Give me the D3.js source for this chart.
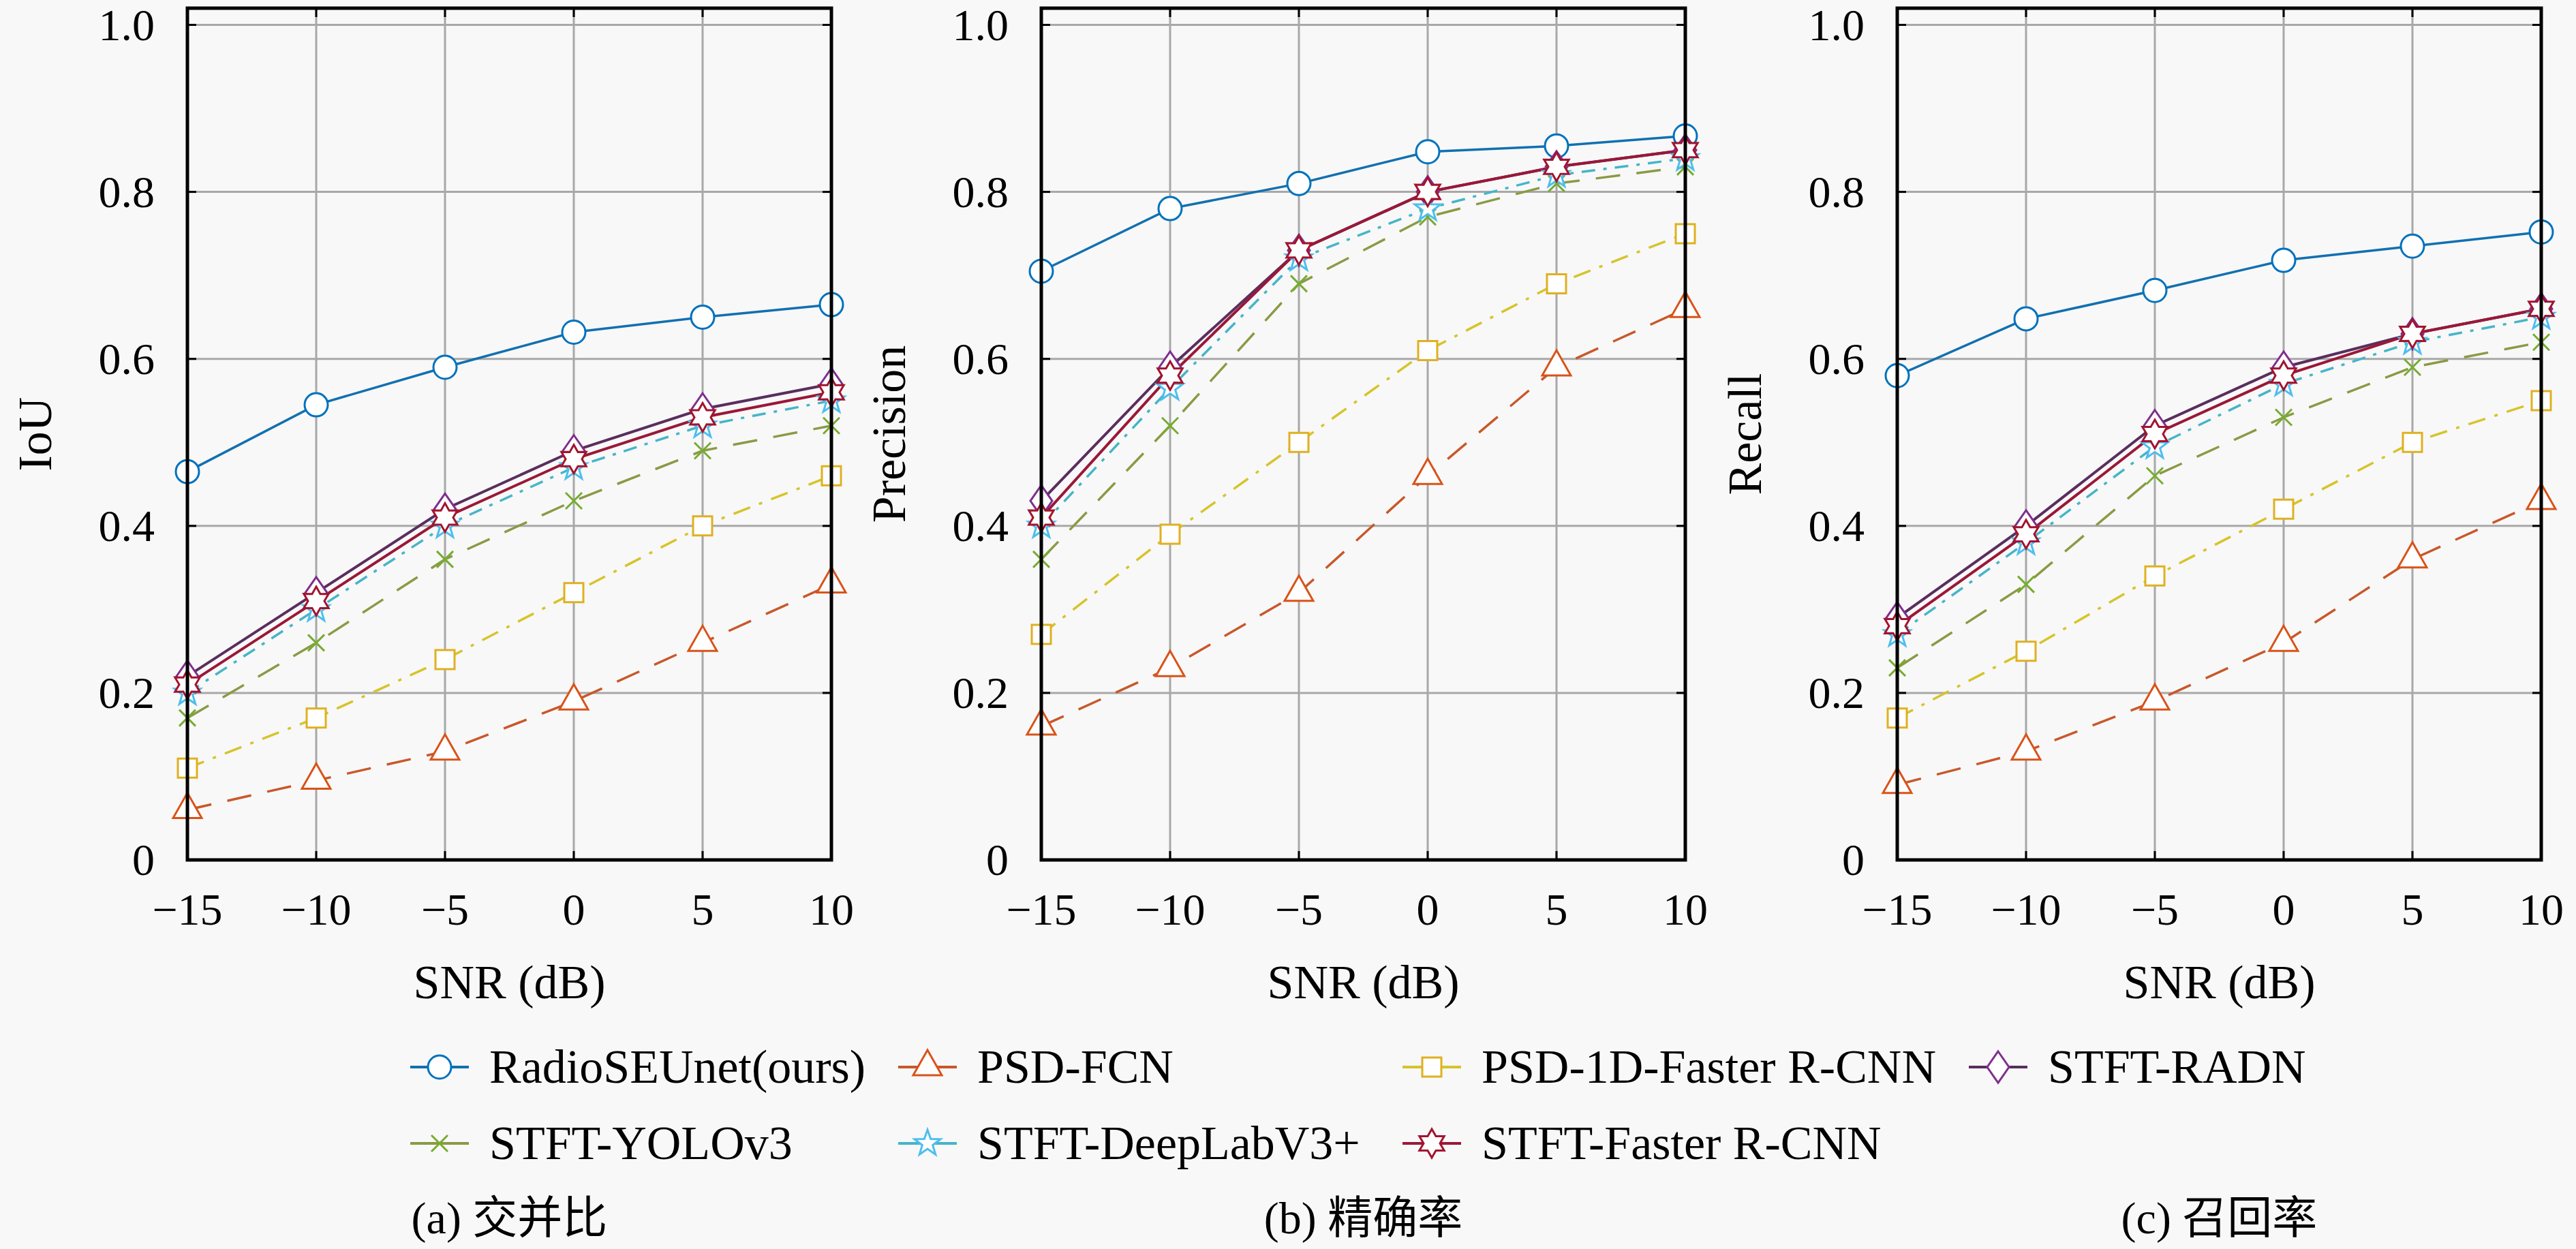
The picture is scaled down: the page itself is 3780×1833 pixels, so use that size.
<!DOCTYPE html>
<html lang="zh">
<head>
    <meta charset="UTF-8">
    <title>SNR</title>
    <script src="https://d3js.org/d3.v7.min.js"></script>
    <style>
        body {
            margin: 0;
            background: #f8f8f8;
        }

        text {
            font-family: "Liberation Serif", "Noto Sans CJK SC", serif;
            fill: #000;
        }

        .grid line {
            stroke: #a8a8a8;
            stroke-width: 3;
        }

        .tick-mark {
            stroke: #000;
            stroke-width: 3;
        }
    </style>
</head>

<body>
    <div id="chart"></div>

    <script>
        // data
        var snr = [-15, -10, -5, 0, 5, 10];
        var xTickLabels = ["\u221215", "\u221210", "\u22125", "0", "5", "10"];
        var yTicks = [0, 0.2, 0.4, 0.6, 0.8, 1.0];
        var yTickLabels = ["0", "0.2", "0.4", "0.6", "0.8", "1.0"];

        var methods = ["RadioSEUnet(ours)", "PSD-FCN", "PSD-1D-Faster R-CNN", "STFT-RADN",
            "STFT-YOLOv3", "STFT-DeepLabV3+", "STFT-Faster R-CNN"];

        var iouValues = [
            [0.465, 0.545, 0.59, 0.632, 0.65, 0.665],
            [0.06, 0.095, 0.13, 0.19, 0.26, 0.33],
            [0.11, 0.17, 0.24, 0.32, 0.40, 0.46],
            [0.22, 0.32, 0.42, 0.49, 0.54, 0.57],
            [0.17, 0.26, 0.36, 0.43, 0.49, 0.52],
            [0.20, 0.30, 0.40, 0.47, 0.52, 0.55],
            [0.21, 0.31, 0.41, 0.48, 0.53, 0.56]
        ];

        var precisionValues = [
            [0.705, 0.78, 0.81, 0.848, 0.855, 0.867],
            [0.16, 0.23, 0.32, 0.46, 0.59, 0.66],
            [0.27, 0.39, 0.50, 0.61, 0.69, 0.75],
            [0.43, 0.59, 0.73, 0.80, 0.83, 0.85],
            [0.36, 0.52, 0.69, 0.77, 0.81, 0.83],
            [0.40, 0.565, 0.72, 0.78, 0.82, 0.84],
            [0.41, 0.58, 0.73, 0.80, 0.83, 0.85]
        ];

        var recallValues = [
            [0.58, 0.648, 0.682, 0.718, 0.735, 0.752],
            [0.09, 0.13, 0.19, 0.26, 0.36, 0.43],
            [0.17, 0.25, 0.34, 0.42, 0.50, 0.55],
            [0.29, 0.40, 0.52, 0.59, 0.63, 0.66],
            [0.23, 0.33, 0.46, 0.53, 0.59, 0.62],
            [0.27, 0.38, 0.495, 0.57, 0.62, 0.65],
            [0.28, 0.39, 0.51, 0.58, 0.63, 0.66]
        ];

        var yLabels = ["IoU", "Precision", "Recall"];
        var captions = ["(a) 交并比", "(b) 精确率", "(c) 召回率"];
        var panelValues = [iouValues, precisionValues, recallValues];

        // styles
        var colors = ["#0072BD", "#D95319", "#E0B020", "#7E2F8E", "#77AC30", "#4DBEEE", "#A2142F"];
        var lineColors = ["#1170b0", "#c8582a", "#d6c42a", "#5a2e5e", "#8a9a45", "#45b5c8", "#9a1838"];
        var dashes = [null, "36,24", "26,14,5,14", null, "36,24", "20,12,5,12", null];
        var markers = ["circle", "triangle", "square", "diamond", "cross", "star", "hexagram"];

        var panelLeft = [275, 1528, 2784];
        var plotWidth = 945;
        var plotTop = 12, plotBottom = 1262;
        var tickFont = 66, labelFont = 70;

        function starPath(n, R, r) {
            var pts = [];
            for (var i = 0; i < 2 * n; i++) {
                var a = -Math.PI / 2 + i * Math.PI / n;
                var rad = i % 2 === 0 ? R : r;
                pts.push([rad * Math.cos(a), rad * Math.sin(a)]);
            }
            return "M" + pts.map(function (p) { return p[0].toFixed(2) + "," + p[1].toFixed(2); }).join("L") + "Z";
        }

        function markerPath(type) {
            switch (type) {
                case "circle":
                    return "M17,0A17,17 0 1 1 -17,0A17,17 0 1 1 17,0Z";
                case "triangle":
                    return "M0,-25L21,12L-21,12Z";
                case "square":
                    return "M-14,-14h28v28h-28Z";
                case "diamond":
                    return "M0,-23L16,0L0,23L-16,0Z";
                case "cross":
                    return "M-12,-12L12,12M-12,12L12,-12";
                case "star":
                    return starPath(5, 20, 8);
                case "hexagram":
                    return starPath(6, 21, 12);
            }
        }

        var svg = d3.select("#chart")
            .append("svg")
            .attr("width", 3780)
            .attr("height", 1833);

        var y = d3.scaleLinear().domain([0, 1.02]).range([plotBottom, plotTop]);

        panelValues.forEach(function (values, p) {
            var x = d3.scaleLinear().domain([-15, 10]).range([0, plotWidth]);

            var g = svg.append("g")
                .attr("transform", "translate(" + panelLeft[p] + ",0)");

            // grid
            var grid = g.append("g").attr("class", "grid");
            grid.selectAll(".vgrid")
                .data(snr)
                .enter().append("line")
                .attr("x1", function (d) { return x(d); })
                .attr("x2", function (d) { return x(d); })
                .attr("y1", plotTop)
                .attr("y2", plotBottom);
            grid.selectAll(".hgrid")
                .data(yTicks)
                .enter().append("line")
                .attr("x1", 0)
                .attr("x2", plotWidth)
                .attr("y1", function (d) { return y(d); })
                .attr("y2", function (d) { return y(d); });

            // inward tick marks on all four sides
            snr.forEach(function (d) {
                g.append("line").attr("class", "tick-mark")
                    .attr("x1", x(d)).attr("x2", x(d)).attr("y1", plotBottom).attr("y2", plotBottom - 13);
                g.append("line").attr("class", "tick-mark")
                    .attr("x1", x(d)).attr("x2", x(d)).attr("y1", plotTop).attr("y2", plotTop + 13);
            });
            yTicks.forEach(function (d) {
                g.append("line").attr("class", "tick-mark")
                    .attr("x1", 0).attr("x2", 13).attr("y1", y(d)).attr("y2", y(d));
                g.append("line").attr("class", "tick-mark")
                    .attr("x1", plotWidth).attr("x2", plotWidth - 13).attr("y1", y(d)).attr("y2", y(d));
            });

            // series lines
            var line = d3.line()
                .x(function (d, i) { return x(snr[i]); })
                .y(function (d) { return y(d); });

            values.forEach(function (series, s) {
                g.append("path")
                    .attr("d", line(series))
                    .attr("fill", "none")
                    .attr("stroke", lineColors[s])
                    .attr("stroke-width", s === 3 || s === 6 ? 4 : 3.5)
                    .attr("stroke-dasharray", dashes[s]);
            });

            // markers
            values.forEach(function (series, s) {
                g.selectAll(".m" + s)
                    .data(series)
                    .enter().append("path")
                    .attr("transform", function (d, i) {
                        return "translate(" + x(snr[i]) + "," + y(d) + ")";
                    })
                    .attr("d", markerPath(markers[s]))
                    .attr("fill", markers[s] === "cross" ? "none" : "#fff")
                    .attr("stroke", colors[s])
                    .attr("stroke-width", 3);
            });

            // frame
            g.append("rect")
                .attr("x", 0)
                .attr("y", plotTop)
                .attr("width", plotWidth)
                .attr("height", plotBottom - plotTop)
                .attr("fill", "none")
                .attr("stroke", "#000")
                .attr("stroke-width", 5);

            // tick labels
            g.selectAll(".ylab")
                .data(yTicks)
                .enter().append("text")
                .attr("x", -48)
                .attr("y", function (d) { return y(d) + 22; })
                .attr("text-anchor", "end")
                .attr("font-size", tickFont)
                .text(function (d, i) { return yTickLabels[i]; });

            g.selectAll(".xlab")
                .data(snr)
                .enter().append("text")
                .attr("x", function (d) { return x(d); })
                .attr("y", 1357)
                .attr("text-anchor", "middle")
                .attr("font-size", tickFont)
                .text(function (d, i) { return xTickLabels[i]; });

            // axis titles
            g.append("text")
                .attr("transform", "translate(-223," + ((plotTop + plotBottom) / 2) + ") rotate(-90)")
                .attr("dy", "0.33em")
                .attr("text-anchor", "middle")
                .attr("font-size", labelFont)
                .text(yLabels[p]);

            g.append("text")
                .attr("x", plotWidth / 2)
                .attr("y", 1465)
                .attr("text-anchor", "middle")
                .attr("font-size", labelFont)
                .text("SNR (dB)");

            // caption
            g.append("text")
                .attr("x", plotWidth / 2)
                .attr("y", 1810)
                .attr("text-anchor", "middle")
                .attr("font-size", tickFont)
                .text(captions[p]);
        });

        // legend
        var legendX = [645, 1361, 2101, 2932];
        var legendY = [1566, 1678];

        methods.forEach(function (name, s) {
            var cx = legendX[s % 4];
            var cy = legendY[Math.floor(s / 4)];
            var lg = svg.append("g");
            lg.append("line")
                .attr("x1", cx - 43)
                .attr("x2", cx + 43)
                .attr("y1", cy)
                .attr("y2", cy)
                .attr("stroke", lineColors[s])
                .attr("stroke-width", 4);
            lg.append("path")
                .attr("transform", "translate(" + cx + "," + cy + ")")
                .attr("d", markerPath(markers[s]))
                .attr("fill", markers[s] === "cross" ? "none" : "#fff")
                .attr("stroke", colors[s])
                .attr("stroke-width", 3);
            lg.append("text")
                .attr("x", cx + 73)
                .attr("y", cy + 23)
                .attr("font-size", labelFont)
                .text(name);
        });
    </script>
</body>

</html>
